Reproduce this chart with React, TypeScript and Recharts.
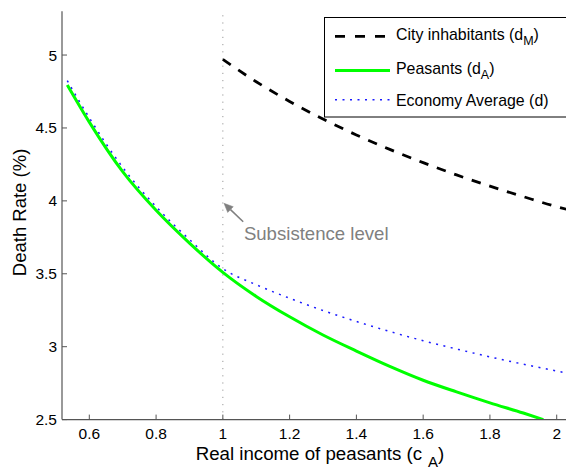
import React from "react";
import {
  LineChart,
  Line,
  XAxis,
  YAxis,
  ReferenceLine,
  ReferenceDot,
  Legend,
} from "recharts";

// ---- Data ----
const peasantIncome = [0.534, 0.6, 0.7, 0.8, 0.9, 1.0, 1.1, 1.2, 1.3, 1.4, 1.5, 1.6, 1.7, 1.8, 1.9, 1.96];
const peasantDeath = [4.795, 4.54, 4.2, 3.935, 3.71, 3.51, 3.345, 3.205, 3.08, 2.97, 2.865, 2.77, 2.69, 2.615, 2.545, 2.5];

const averageIncome = [0.534, 0.6, 0.7, 0.8, 0.9, 1.0, 1.1, 1.2, 1.3, 1.4, 1.5, 1.6, 1.7, 1.8, 1.9, 2.0, 2.052];
const averageDeath = [4.825, 4.57, 4.23, 3.96, 3.735, 3.535, 3.425, 3.332, 3.248, 3.173, 3.104, 3.041, 2.984, 2.93, 2.88, 2.833, 2.81];

const cityIncome = [1.0, 1.1, 1.2, 1.3, 1.4, 1.5, 1.6, 1.7, 1.8, 1.9, 2.0, 2.052];
const cityDeath = [4.97, 4.817, 4.682, 4.561, 4.452, 4.353, 4.262, 4.178, 4.101, 4.029, 3.96, 3.93];

const xTicks = [0.6, 0.8, 1, 1.2, 1.4, 1.6, 1.8, 2];
const yTicks = [2.5, 3, 3.5, 4, 4.5, 5];
const xDomain = [0.5182, 2.0518];
const yDomain = [2.5, 5.3];

const subsistenceLevel = 1;
const arrowTail = { x: 1.061, y: 3.857 };
const arrowHead = { x: 1.0034, y: 3.983 };
const annotationAnchor = { x: 1.063, y: 3.73 };
const annotationText = "Subsistence level";

const toRows = (xs: number[], ys: number[]) => xs.map((c, i) => ({ c, d: ys[i] }));
const cityData = toRows(cityIncome, cityDeath);
const peasantData = toRows(peasantIncome, peasantDeath);
const averageData = toRows(averageIncome, averageDeath);

const FONT = "'Liberation Sans', Arial, Helvetica, sans-serif";
const AXIS = "#555555";

const series = [
  { key: "city", main: "City inhabitants (d", sub: "M", color: "#000000", width: 2.8, dash: "9.5 9" },
  { key: "peasant", main: "Peasants (d", sub: "A", color: "#00ff00", width: 3, dash: undefined },
  { key: "avg", main: "Economy Average (d)", sub: "", color: "#1a1aff", width: 1.5, dash: "2 5.5" },
];

const XTick = (props: any) => {
  const { x, y, payload } = props;
  return (
    <g>
      <line x1={x} x2={x} y1={y} y2={y - 5} stroke={AXIS} strokeWidth={1} />
      <text x={x} y={y + 19.7} textAnchor="middle" fontFamily={FONT} fontSize={15.5} fill="#000">
        {payload.value}
      </text>
    </g>
  );
};

const YTick = (props: any) => {
  const { x, y, payload } = props;
  return (
    <g>
      <line x1={x} x2={x + 5} y1={y} y2={y} stroke={AXIS} strokeWidth={1} />
      <text x={x - 5} y={y + 5.5} textAnchor="end" fontFamily={FONT} fontSize={15.5} fill="#000">
        {payload.value}
      </text>
    </g>
  );
};

const XLabel = (props: any) => {
  const vb = props.viewBox || {};
  const cx = vb.x + vb.width / 2 + 2;
  const by = vb.y + 40.4;
  return (
    <text x={cx} y={by} textAnchor="middle" fontFamily={FONT} fontSize={18.7} fill="#000">
      Real income of peasants (c
      <tspan dx={6} dy={7} fontSize={15}>A</tspan>
      <tspan dy={-7}>)</tspan>
    </text>
  );
};

const YLabel = (props: any) => {
  const vb = props.viewBox || {};
  const x = vb.x + 18;
  const y = vb.y + vb.height / 2 - 3;
  return (
    <text
      x={x}
      y={y}
      transform={`rotate(-90, ${x}, ${y})`}
      textAnchor="middle"
      fontFamily={FONT}
      fontSize={18.5}
      fill="#000"
    >
      Death Rate (%)
    </text>
  );
};

const ArrowShape = (props: any) => {
  const { x1, y1, x2, y2 } = props;
  if ([x1, y1, x2, y2].some((v) => typeof v !== "number" || isNaN(v))) return null;
  const dx = x2 - x1;
  const dy = y2 - y1;
  const len = Math.sqrt(dx * dx + dy * dy) || 1;
  const ux = dx / len;
  const uy = dy / len;
  const hl = 9;
  const hw = 4;
  const bx = x2 - ux * hl;
  const by = y2 - uy * hl;
  const pts = `${x2},${y2} ${bx - uy * hw},${by + ux * hw} ${bx + uy * hw},${by - ux * hw}`;
  return (
    <g>
      <line x1={x1} y1={y1} x2={bx} y2={by} stroke="#808080" strokeWidth={1.6} />
      <polygon points={pts} fill="#808080" stroke="#808080" strokeWidth={0.5} />
    </g>
  );
};

const AnnotationShape = (props: any) => {
  const { cx, cy } = props;
  if (typeof cx !== "number" || typeof cy !== "number") return null;
  return (
    <text x={cx} y={cy} textAnchor="start" fontFamily={FONT} fontSize={18.6} fill="#808080">
      {annotationText}
    </text>
  );
};

const LegendBox = () => {
  const rows = [19.4, 53.4, 82.7];
  const baselines = [22.7, 56.7, 88.7];
  return (
    <svg width={250} height={101} style={{ display: "block" }}>
      <rect x={0.5} y={0.5} width={249} height={99.5} fill="#ffffff" stroke="#000" strokeWidth={1} />
      {series.map((s, i) => (
        <g key={s.key}>
          <line
            x1={11}
            x2={66}
            y1={rows[i]}
            y2={rows[i]}
            stroke={s.color}
            strokeWidth={s.width}
            strokeDasharray={s.key === "city" ? "10 10" : s.dash}
          />
          <text x={72} y={baselines[i]} fontFamily={FONT} fontSize={15.9} fill="#000">
            {s.main}
            {s.sub ? (
              <>
                <tspan dy={5} fontSize={12.5}>{s.sub}</tspan>
                <tspan dy={-5}>)</tspan>
              </>
            ) : null}
          </text>
        </g>
      ))}
    </svg>
  );
};

export default function App() {
  return (
    <LineChart
      width={566}
      height={461}
      margin={{ top: 3.3, right: 0, bottom: 0, left: 0 }}
      style={{ background: "#ffffff" }}
    >
      <XAxis
        type="number"
        dataKey="c"
        domain={xDomain}
        ticks={xTicks}
        allowDataOverflow
        height={49.4}
        tickSize={0}
        tickMargin={0}
        tickLine={false}
        axisLine={{ stroke: AXIS, strokeWidth: 1.2 }}
        tick={<XTick />}
        label={{ content: <XLabel /> }}
      />
      <YAxis
        type="number"
        domain={yDomain}
        ticks={yTicks}
        allowDataOverflow
        width={54}
        tickSize={0}
        tickMargin={0}
        tickLine={false}
        axisLine={{ stroke: AXIS, strokeWidth: 1.2 }}
        tick={<YTick />}
        label={{ content: <YLabel /> }}
      />
      <ReferenceLine x={subsistenceLevel} stroke="#999999" strokeWidth={1} strokeDasharray="1.2 6" />
      <Line
        data={cityData}
        dataKey="d"
        type="monotone"
        stroke={series[0].color}
        strokeWidth={series[0].width}
        strokeDasharray={series[0].dash}
        dot={false}
        activeDot={false}
        isAnimationActive={false}
      />
      <Line
        data={peasantData}
        dataKey="d"
        type="monotone"
        stroke={series[1].color}
        strokeWidth={series[1].width}
        dot={false}
        activeDot={false}
        isAnimationActive={false}
      />
      <Line
        data={averageData}
        dataKey="d"
        type="monotone"
        stroke={series[2].color}
        strokeWidth={series[2].width}
        strokeDasharray={series[2].dash}
        dot={false}
        activeDot={false}
        isAnimationActive={false}
      />
      <ReferenceLine segment={[arrowTail, arrowHead]} shape={<ArrowShape />} ifOverflow="visible" />
      <ReferenceDot
        x={annotationAnchor.x}
        y={annotationAnchor.y}
        r={0}
        ifOverflow="visible"
        shape={<AnnotationShape />}
      />
      <Legend
        layout="vertical"
        align="center"
        verticalAlign="middle"
        content={<LegendBox />}
        wrapperStyle={{ left: 316, top: 9.3, width: 250, height: 101, position: "absolute" }}
      />
    </LineChart>
  );
}
